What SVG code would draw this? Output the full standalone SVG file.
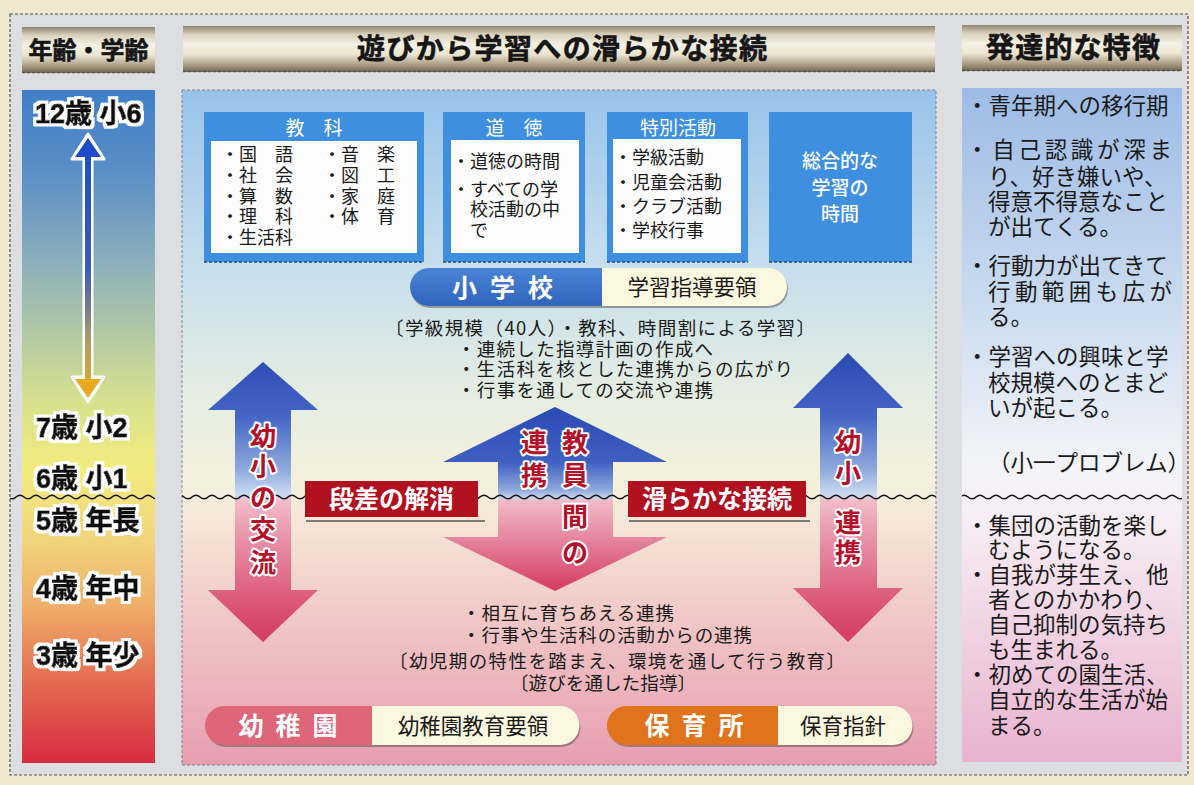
<svg xmlns="http://www.w3.org/2000/svg" width="1194" height="785" viewBox="0 0 1194 785">
<defs>
<style>
.hd{font-family:'Noto Sans CJK JP','Noto Sans',sans-serif;font-weight:700;fill:#161616;text-anchor:middle;stroke:#161616;stroke-width:0.6;}
.age{font-family:'Liberation Sans','Noto Sans CJK JP',sans-serif;font-weight:700;font-size:27px;fill:#111;stroke:#111;stroke-width:0.9;filter:url(#halo);}
.bt{font-family:'Noto Sans CJK JP',sans-serif;font-size:19px;fill:#fff;text-anchor:middle;}
.it{font-family:'Noto Sans CJK JP',sans-serif;font-size:18px;fill:#1a1a1a;}
.mt{font-family:'Noto Sans CJK JP',sans-serif;font-size:18.5px;fill:#1a1a1a;}
.dv{font-family:'Noto Sans CJK JP',sans-serif;font-size:22.5px;fill:#1a1a1a;}
.ar{font-family:'Noto Sans CJK JP',sans-serif;font-weight:700;font-size:26px;fill:#b4102a;stroke:#fff;stroke-width:4;paint-order:stroke;stroke-linejoin:round;text-anchor:middle;}
.lab{font-family:'Noto Sans CJK JP',sans-serif;font-weight:700;font-size:25px;fill:#fff;text-anchor:middle;}
.pl{font-family:'Noto Sans CJK JP',sans-serif;font-weight:700;font-size:25px;fill:#fff;text-anchor:middle;}
.pr{font-family:'Noto Sans CJK JP',sans-serif;font-size:21.5px;fill:#1a1a1a;text-anchor:middle;}
.box{fill:#3e8fe0;}
.inner{fill:#fcfcfc;}
.bar{fill:url(#metal);}
.barline{stroke:#5a5448;stroke-width:1.5;stroke-dasharray:3 2;fill:none;}
.wave{fill:url(#wavep);}
.shadow{fill:#4a4040;opacity:0.45;}
.cream{fill:#fcf7df;}
.red{fill:#b1101f;}
.boxline{stroke:#2a4a70;stroke-width:1.5;stroke-dasharray:3 2;}
</style>
<filter id="halo" x="-10%" y="-30%" width="120%" height="160%">
<feMorphology in="SourceAlpha" operator="dilate" radius="2.6" result="d"/>
<feFlood flood-color="#ffffff"/>
<feComposite in2="d" operator="in" result="w"/>
<feMerge><feMergeNode in="w"/><feMergeNode in="SourceGraphic"/></feMerge>
</filter>
<linearGradient id="metal" x1="0" y1="0" x2="0" y2="1">
<stop offset="0" stop-color="#8f846f"/>
<stop offset="0.18" stop-color="#d9d1bc"/>
<stop offset="0.4" stop-color="#f5f1e4"/>
<stop offset="0.62" stop-color="#ebe4d0"/>
<stop offset="0.85" stop-color="#a89b80"/>
<stop offset="1" stop-color="#6f6552"/>
</linearGradient>
<linearGradient id="ageg" x1="0" y1="90" x2="0" y2="763" gradientUnits="userSpaceOnUse">
<stop offset="0" stop-color="#3f7fc8"/>
<stop offset="0.12" stop-color="#5a8ec6"/>
<stop offset="0.26" stop-color="#8db0ba"/>
<stop offset="0.46" stop-color="#d6e08e"/>
<stop offset="0.56" stop-color="#f2ec7e"/>
<stop offset="0.67" stop-color="#f1d47c"/>
<stop offset="0.77" stop-color="#eeac68"/>
<stop offset="0.88" stop-color="#e46a50"/>
<stop offset="1" stop-color="#d82c40"/>
</linearGradient>
<linearGradient id="maing" x1="0" y1="90" x2="0" y2="765" gradientUnits="userSpaceOnUse">
<stop offset="0" stop-color="#97c3ea"/>
<stop offset="0.24" stop-color="#c3dcee"/>
<stop offset="0.46" stop-color="#e6eee2"/>
<stop offset="0.58" stop-color="#f4f1dc"/>
<stop offset="0.64" stop-color="#f6e6d8"/>
<stop offset="0.77" stop-color="#f1cac8"/>
<stop offset="1" stop-color="#e79eb0"/>
</linearGradient>
<linearGradient id="devg" x1="0" y1="88" x2="0" y2="762" gradientUnits="userSpaceOnUse">
<stop offset="0" stop-color="#9dbbe5"/>
<stop offset="0.32" stop-color="#cadbf0"/>
<stop offset="0.56" stop-color="#f3f4f8"/>
<stop offset="0.64" stop-color="#f7eef4"/>
<stop offset="1" stop-color="#e9b2cf"/>
</linearGradient>
<linearGradient id="arg" x1="0" y1="353" x2="0" y2="642" gradientUnits="userSpaceOnUse">
<stop offset="0" stop-color="#2a4ab4"/>
<stop offset="0.22" stop-color="#4466c6"/>
<stop offset="0.4" stop-color="#8ea8dc"/>
<stop offset="0.49" stop-color="#cadbf2"/>
<stop offset="0.51" stop-color="#f2bcc8"/>
<stop offset="0.65" stop-color="#e890a6"/>
<stop offset="0.85" stop-color="#dc5a7a"/>
<stop offset="1" stop-color="#d43a60"/>
</linearGradient>
<linearGradient id="arc" x1="0" y1="407" x2="0" y2="591" gradientUnits="userSpaceOnUse">
<stop offset="0" stop-color="#2a4ab4"/>
<stop offset="0.3" stop-color="#3f60c2"/>
<stop offset="0.45" stop-color="#8ea8dc"/>
<stop offset="0.49" stop-color="#c4d4f0"/>
<stop offset="0.51" stop-color="#f2bac6"/>
<stop offset="0.7" stop-color="#e68aa2"/>
<stop offset="1" stop-color="#d43a60"/>
</linearGradient>
<linearGradient id="ageArrow" x1="0" y1="140" x2="0" y2="398" gradientUnits="userSpaceOnUse">
<stop offset="0" stop-color="#1d4cc4"/>
<stop offset="0.5" stop-color="#3a5cb4"/>
<stop offset="0.8" stop-color="#b4a060"/>
<stop offset="1" stop-color="#e8aa22"/>
</linearGradient>
<linearGradient id="bluepill" x1="0" y1="0" x2="0" y2="1">
<stop offset="0" stop-color="#4a84d6"/>
<stop offset="1" stop-color="#2f64bc"/>
</linearGradient>
<pattern id="wavep" x="0" y="493" width="16" height="8" patternUnits="userSpaceOnUse">
<path d="M-1 4.6 Q0 4 0 4 Q4 0.6 8 4 T16 4 Q16.5 4.4 17 4.6" fill="none" stroke="#111" stroke-width="1.4"/>
</pattern>
</defs>

<rect x="0" y="0" width="1194" height="785" fill="#f0e9cf"/>
<rect x="10" y="14" width="1178" height="761" fill="#dcdee1" stroke="#555" stroke-width="1.2" stroke-dasharray="3 2"/>

<!-- headers -->
<g id="header-age">
<rect class="bar" x="22" y="27" width="133" height="46"/>
<line class="barline" x1="22" y1="72.5" x2="155" y2="72.5"/>
<text class="hd" x="88.5" y="59" font-size="24">年齢・学齢</text>
</g>
<g id="header-main">
<rect class="bar" x="183" y="26" width="752" height="46"/>
<line class="barline" x1="183" y1="71.5" x2="935" y2="71.5"/>
<text class="hd" x="562" y="59" font-size="28" textLength="410" lengthAdjust="spacing">遊びから学習への滑らかな接続</text>
</g>
<g id="header-dev">
<rect class="bar" x="962" y="25" width="220" height="46"/>
<line class="barline" x1="962" y1="70.5" x2="1182" y2="70.5"/>
<text class="hd" x="1073" y="58" font-size="28" textLength="174" lengthAdjust="spacing">発達的な特徴</text>
</g>

<!-- panels -->
<rect id="panel-age" x="22" y="90" width="133" height="673" fill="url(#ageg)"/>
<rect id="panel-main" x="182" y="90" width="754" height="675" fill="url(#maing)" stroke="#6a7080" stroke-width="0.8" stroke-dasharray="3 2"/>
<rect id="panel-dev" x="962" y="88" width="220" height="674" fill="url(#devg)"/>

<!-- age column -->
<g id="age-arrow">
<line x1="88" y1="152" x2="88" y2="384" stroke="#fff" stroke-width="11"/>
<polygon points="88,134 72,159 104,159" fill="#fff" stroke="#fff" stroke-width="3" stroke-linejoin="round"/>
<polygon points="88,402 72,377 104,377" fill="#fff" stroke="#fff" stroke-width="3" stroke-linejoin="round"/>
<line x1="88" y1="155" x2="88" y2="382" stroke="url(#ageArrow)" stroke-width="6"/>
<polygon points="88,138 75,157 101,157" fill="#1e4cc6"/>
<polygon points="88,398 75,379 101,379" fill="#e8a820"/>
</g>
<g id="age-labels">
<text class="age" x="35" y="123">12歳 小6</text>
<text class="age" x="36" y="437">7歳 小2</text>
<text class="age" x="36" y="488">6歳 小1</text>
<text class="age" x="36" y="530">5歳 年長</text>
<text class="age" x="36" y="598">4歳 年中</text>
<text class="age" x="36" y="665">3歳 年少</text>
</g>

<!-- top boxes -->
<g id="box-kyouka">
<rect class="box" x="204" y="112" width="220" height="150"/>
<line class="boxline" x1="204" y1="262" x2="424" y2="262"/>
<rect class="inner" x="211" y="141" width="206" height="112"/>
<text class="bt" x="314" y="135" font-size="20">教　科</text>
<text class="it" x="221" y="161">・国　語</text>
<text class="it" x="221" y="182">・社　会</text>
<text class="it" x="221" y="203">・算　数</text>
<text class="it" x="221" y="223">・理　科</text>
<text class="it" x="221" y="244">・生活科</text>
<text class="it" x="323" y="161">・音　楽</text>
<text class="it" x="323" y="182">・図　工</text>
<text class="it" x="323" y="203">・家　庭</text>
<text class="it" x="323" y="223">・体　育</text>
</g>
<g id="box-doutoku">
<rect class="box" x="443" y="112" width="142" height="150"/>
<line class="boxline" x1="443" y1="262" x2="585" y2="262"/>
<rect class="inner" x="451" y="140" width="128" height="113"/>
<text class="bt" x="514" y="135" font-size="20">道　徳</text>
<text class="it" x="452" y="168">・道徳の時間</text>
<text class="it" x="452" y="196">・すべての学</text>
<text class="it" x="470" y="216">校活動の中</text>
<text class="it" x="470" y="237">で</text>
</g>
<g id="box-tokubetsu">
<rect class="box" x="607" y="112" width="141" height="150"/>
<line class="boxline" x1="607" y1="262" x2="748" y2="262"/>
<rect class="inner" x="613" y="139" width="128" height="114"/>
<text class="bt" x="678" y="135" font-size="20">特別活動</text>
<text class="it" x="614" y="164">・学級活動</text>
<text class="it" x="614" y="189">・児童会活動</text>
<text class="it" x="614" y="213">・クラブ活動</text>
<text class="it" x="614" y="237">・学校行事</text>
</g>
<g id="box-sougou">
<rect class="box" x="769" y="112" width="143" height="150"/>
<line class="boxline" x1="769" y1="262" x2="912" y2="262"/>
<text class="bt" x="840" y="168" font-size="21" font-weight="500">総合的な</text>
<text class="bt" x="840" y="195" font-size="21" font-weight="500">学習の</text>
<text class="bt" x="840" y="221" font-size="21" font-weight="500">時間</text>
</g>

<!-- elementary pill -->
<g id="pill-shogakko">
<path class="shadow" d="M430,270 H769 A19,19 0 0 1 769,308 H430 A19,19 0 0 1 430,270 Z"/>
<path d="M429,268 H602 V306 H429 A19,19 0 0 1 429,268 Z" fill="url(#bluepill)"/>
<path class="cream" d="M602,268 H768 A19,19 0 0 1 768,306 H602 Z"/>
<text class="pl" x="509" y="297" font-size="27" letter-spacing="13">小学校</text>
<text class="pr" x="692" y="295">学習指導要領</text>
</g>

<g id="text-upper">
<text class="mt" x="385" y="335" textLength="430" lengthAdjust="spacing">〔学級規模（40人）・教科、時間割による学習〕</text>
<text class="mt" x="457" y="356" textLength="256" lengthAdjust="spacing">・連続した指導計画の作成へ</text>
<text class="mt" x="457" y="376" textLength="336" lengthAdjust="spacing">・生活科を核とした連携からの広がり</text>
<text class="mt" x="457" y="397" textLength="256" lengthAdjust="spacing">・行事を通しての交流や連携</text>
</g>

<!-- connectors -->
<g id="connectors">
<polygon id="arrow-left" fill="url(#arg)" points="263,362 318,410 291,410 291,590 318,590 263,642 208,590 235,590 235,410 208,410"/>
<polygon id="arrow-right" fill="url(#arg)" points="848,353 903,408 877,408 877,588 903,588 848,642 793,588 820,588 820,408 793,408"/>
<polygon id="arrow-center" fill="url(#arc)" points="555,407 667,462 613,462 613,537 667,537 555,591 443,537 498,537 498,462 443,462"/>
</g>

<!-- waves -->
<g id="waves">
<rect class="wave" x="10" y="493" width="145" height="8"/>
<rect class="wave" x="182" y="493" width="754" height="8"/>
<rect class="wave" x="962" y="494" width="220" height="8"/>
</g>

<g id="arrow-labels">
<text class="ar" x="263" y="446">幼</text>
<text class="ar" x="263" y="476">小</text>
<text class="ar" x="263" y="507">の</text>
<text class="ar" x="263" y="539">交</text>
<text class="ar" x="263" y="572">流</text>
<text class="ar" x="575" y="452">教</text>
<text class="ar" x="575" y="485">員</text>
<text class="ar" x="575" y="526">間</text>
<text class="ar" x="575" y="562">の</text>
<text class="ar" x="534" y="452">連</text>
<text class="ar" x="534" y="485">携</text>
<text class="ar" x="848" y="452">幼</text>
<text class="ar" x="848" y="483">小</text>
<text class="ar" x="848" y="532">連</text>
<text class="ar" x="848" y="562">携</text>
</g>

<g id="label-dansa">
<line x1="306" y1="521" x2="485" y2="521" stroke="#555" stroke-width="1.5"/>
<rect class="red" x="305" y="481" width="173" height="36"/>
<text class="lab" x="391.5" y="508">段差の解消</text>
</g>
<g id="label-nameraka">
<line x1="629" y1="521" x2="810" y2="521" stroke="#555" stroke-width="1.5"/>
<rect class="red" x="628" y="481" width="178" height="36"/>
<text class="lab" x="717" y="508">滑らかな接続</text>
</g>

<g id="text-lower">
<text class="mt" x="462" y="620" textLength="212" lengthAdjust="spacing">・相互に育ちあえる連携</text>
<text class="mt" x="462" y="642" textLength="290" lengthAdjust="spacing">・行事や生活科の活動からの連携</text>
<text class="mt" x="389" y="668" textLength="456" lengthAdjust="spacing">〔幼児期の特性を踏まえ、環境を通して行う教育〕</text>
<text class="mt" x="603" y="690" text-anchor="middle" textLength="186" lengthAdjust="spacing">〔遊びを通した指導〕</text>
</g>

<g id="pill-youchien">
<path class="shadow" d="M226,708 H561 A19.5,19.5 0 0 1 561,747 H226 A19.5,19.5 0 0 1 226,708 Z"/>
<path d="M224.5,706 H372 V745 H224.5 A19.5,19.5 0 0 1 224.5,706 Z" fill="#de6679"/>
<path class="cream" d="M372,706 H560 A19.5,19.5 0 0 1 560,745 H372 Z"/>
<text class="pl" x="294" y="735" letter-spacing="12">幼稚園</text>
<text class="pr" x="473" y="734">幼稚園教育要領</text>
</g>
<g id="pill-hoikusho">
<path class="shadow" d="M628,708 H894 A19.5,19.5 0 0 1 894,747 H628 A19.5,19.5 0 0 1 628,708 Z"/>
<path d="M626.5,706 H778 V745 H626.5 A19.5,19.5 0 0 1 626.5,706 Z" fill="#e0741c"/>
<path class="cream" d="M778,706 H893 A19.5,19.5 0 0 1 893,745 H778 Z"/>
<text class="pl" x="700" y="735" letter-spacing="12">保育所</text>
<text class="pr" x="843" y="734">保育指針</text>
</g>

<!-- development column -->
<g id="dev-upper">
<text class="dv" x="966" y="114">・青年期への移行期</text>
<text class="dv" x="966" y="158" textLength="206" lengthAdjust="spacing">・自己認識が深ま</text>
<text class="dv" x="988" y="185">り、好き嫌いや、</text>
<text class="dv" x="988" y="210">得意不得意なこと</text>
<text class="dv" x="988" y="235">が出てくる。</text>
<text class="dv" x="966" y="274">・行動力が出てきて</text>
<text class="dv" x="988" y="300" textLength="184" lengthAdjust="spacing">行動範囲も広が</text>
<text class="dv" x="988" y="325">る。</text>
<text class="dv" x="966" y="365">・学習への興味と学</text>
<text class="dv" x="988" y="391">校規模へのとまど</text>
<text class="dv" x="988" y="416">いが起こる。</text>
<text class="dv" x="988" y="471">（小一プロブレム）</text>
</g>
<g id="dev-lower">
<text class="dv" x="966" y="534">・集団の活動を楽し</text>
<text class="dv" x="988" y="558">むようになる。</text>
<text class="dv" x="966" y="583">・自我が芽生え、他</text>
<text class="dv" x="988" y="608">者とのかかわり、</text>
<text class="dv" x="988" y="633">自己抑制の気持ち</text>
<text class="dv" x="988" y="658">も生まれる。</text>
<text class="dv" x="966" y="683">・初めての園生活、</text>
<text class="dv" x="988" y="708">自立的な生活が始</text>
<text class="dv" x="988" y="734">まる。</text>
</g>
</svg>
